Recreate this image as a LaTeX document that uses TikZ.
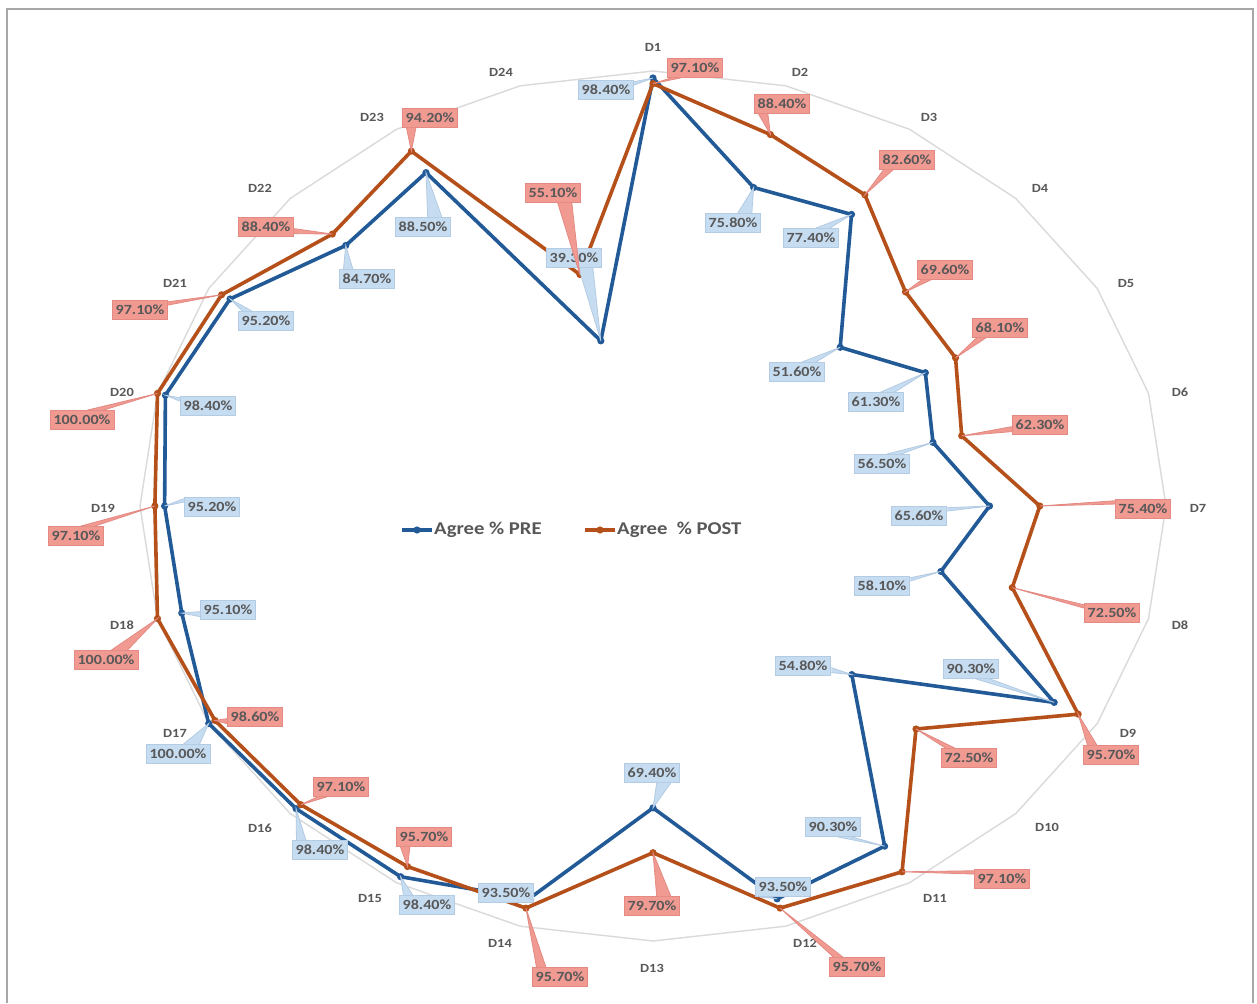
\documentclass[tikz,border=0pt]{standalone}
\usepackage{fontspec}
\setmainfont{Carlito}
\newfontfamily\lblfont[FakeStretch=1.15]{Carlito}
\usetikzlibrary{calc}
\definecolor{preblue}{HTML}{215A96}
\definecolor{postor}{HTML}{B5501A}
\definecolor{prefill}{HTML}{C6DCF1}
\definecolor{predraw}{HTML}{B3CBE3}
\definecolor{postfill}{HTML}{F09A92}
\definecolor{postdraw}{HTML}{E48A82}
\definecolor{gridgray}{HTML}{DADADA}
\definecolor{txtgray}{HTML}{585858}
\definecolor{framegray}{HTML}{A8A6A8}
\tikzset{
  preline/.style={draw=preblue, line width=3.6pt, line join=round},
  postline/.style={draw=postor, line width=3.6pt, line join=round},
  labbox/.style={line width=0.8pt, inner xsep=3.5pt, inner ysep=0pt, minimum height=19pt, text=txtgray, font=\lblfont\bfseries\fontsize{14}{16}\selectfont},
  prebox/.style={labbox, fill=prefill, draw=predraw},
  postbox/.style={labbox, fill=postfill, draw=postdraw},
  axlabel/.style={text=txtgray, font=\lblfont\bfseries\fontsize{12.5}{15}\selectfont},
  legtext/.style={text=txtgray, anchor=west, inner sep=1pt, font=\lblfont\bfseries\fontsize{18}{20}\selectfont}
}
% wedge of a callout: #1 label node, #2 tip coordinate, #3 pre/post
\newcommand\callwedge[3]{%
  \path[fill=#3fill, draw=#3draw, line width=0.8pt]
  let \p1=(#1.north east), \p2=(#1.south west), \p3=(#2), \p4=(#1.center),
      \n1={\x1-\x2}, \n2={\y1-\y2}, \n3={\x3-\x4}, \n4={\y3-\y4},
      \n5={(abs(\n3)/\n1 > abs(\n4)/\n2) ? 1 : 0},
      \n6={(\n5 > 0.5) ? ((\n3 > 0) ? \x1 : \x2) : ((\n3 < 0) ? \x2+\n1/12 : \x2+7*\n1/12)},
      \n7={(\n5 > 0.5) ? ((\n4 > 0) ? \y1-\n2/12 : \y1-7*\n2/12) : ((\n4 > 0) ? \y1 : \y2)},
      \n8={(\n5 > 0.5) ? ((\n3 > 0) ? \x1 : \x2) : ((\n3 < 0) ? \x2+3*\n1/12 : \x2+10*\n1/12)},
      \n9={(\n5 > 0.5) ? ((\n4 > 0) ? \y1-3*\n2/12 : \y1-10*\n2/12) : ((\n4 > 0) ? \y1 : \y2)}
  in (\n6,\n7) -- (\x3,\y3) -- (\n8,\n9);}
\begin{document}
\begin{tikzpicture}[x=1pt,y=-1pt]
\useasboundingbox (0,0) rectangle (1257,1003);
\fill[white] (0,0) rectangle (1257,1003);
\draw[framegray, line width=2.5pt] (7,1003) -- (7,9) -- (1253,9) -- (1253,1003);
% centre and data points
\coordinate (c) at (653,506);
\foreach \v [count=\i] in {98.4,75.8,77.4,51.6,61.3,56.5,65.6,58.1,90.3,54.8,90.3,93.5,69.4,93.5,98.4,98.4,100,95.1,95.2,98.4,95.2,84.7,88.5,39.3}
  \coordinate (pre\i) at ({653+5.13*\v*sin((\i-1)*15)},{506-4.35*\v*cos((\i-1)*15)});
\foreach \v [count=\i] in {97.1,88.4,82.6,69.6,68.1,62.3,75.4,72.5,95.7,72.5,97.1,95.7,79.7,95.7,95.7,97.1,98.6,100,97.1,100,97.1,88.4,94.2,55.1}
  \coordinate (post\i) at ({653+5.13*\v*sin((\i-1)*15)},{506-4.35*\v*cos((\i-1)*15)});
\foreach \i in {1,...,24}
  \coordinate (g\i) at ({653+513*sin((\i-1)*15)},{506-435*cos((\i-1)*15)});
% grid
\draw[gridgray, line width=1.4pt] (g1) \foreach \i in {2,...,24}{ -- (g\i)} -- cycle;
% axis labels
\foreach \i/\x/\y in {1/653/47,2/800/72,3/929/117,4/1040/188,5/1126/283,6/1180/392,7/1198/508,8/1180/625,9/1128/733,10/1047/827,11/935/898,12/805/943,13/652/968,14/500/943,15/370/898,16/260/828,17/175/733,18/122/625,19/103/508,20/122/392,21/175/283,22/260/188,23/372/117,24/501/72}
  \node[axlabel] (ax\i) at (\x,\y) {D\i};
% series
\draw[preline] (pre1) \foreach \i in {2,...,24}{ -- (pre\i)} -- cycle;
\foreach \i in {1,...,24} \fill[preblue] (pre\i) circle (3.6pt);
\draw[postline] (post1) \foreach \i in {2,...,24}{ -- (post\i)} -- cycle;
\foreach \i in {1,...,24} \fill[postor] (post\i) circle (3.6pt);
% PRE callouts
\foreach \i/\x/\y/\t in {1/606/90/98.40,2/733/223/75.80,3/811/238/77.40,4/797/372/51.60,5/876/402/61.30,6/882/464/56.50,7/919/516/65.60,8/882/586/58.10,9/971/669/90.30,10/803/666/54.80,11/833/827/90.30,12/783/887/93.50,13/652/773/69.40,14/506/893/93.50,15/427/905/98.40,16/320/850/98.40,17/178/754/100.00,18/228/610/95.10,19/212/507/95.20,20/208/406/98.40,21/266/321/95.20,22/367/279/84.70,23/423/227/88.50,24/574/258/39.30}{
  \node[prebox] (prelab\i) at (\x,\y) {\t\%};
  \callwedge{prelab\i}{pre\i}{pre}
}
% POST callouts
\foreach \i/\x/\y/\t in {1/695/68/97.10,2/782/104/88.40,3/907/160/82.60,4/945/270/69.60,5/1000/328/68.10,6/1040/425/62.30,7/1143/509/75.40,8/1112/613/72.50,9/1111/755/95.70,10/969/758/72.50,11/1002/879/97.10,12/857/967/95.70,13/652/906/79.70,14/560/977/95.70,15/424/837/95.70,16/341/787/97.10,17/255/717/98.60,18/106/660/100.00,19/76/536/97.10,20/82/420/100.00,21/140/310/97.10,22/266/227/88.40,23/430/118/94.20,24/553/193/55.10}{
  \node[postbox] (postlab\i) at (\x,\y) {\t\%};
  \callwedge{postlab\i}{post\i}{post}
}
% legend
\coordinate (la1) at (402,530); \coordinate (la2) at (432,530);
\draw[preblue, line width=3.2pt] (la1) -- (la2);
\fill[preblue] ($(la1)!0.5!(la2)$) circle (3.6pt);
\node[legtext] (leg1) at (433,530) {Agree \% PRE};
\coordinate (lb1) at (585,530); \coordinate (lb2) at (615,530);
\draw[postor, line width=3.2pt] (lb1) -- (lb2);
\fill[postor] ($(lb1)!0.5!(lb2)$) circle (3.6pt);
\node[legtext] (leg2) at (616,530) {Agree\ \ \% POST};
\end{tikzpicture}
\end{document}
